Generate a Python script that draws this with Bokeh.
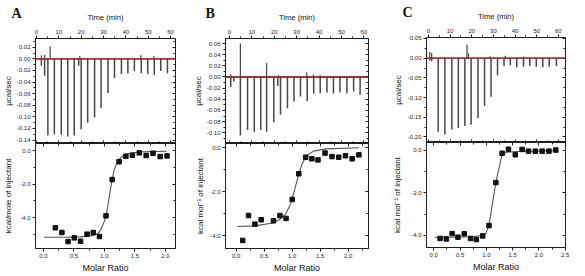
from bokeh.plotting import figure
from bokeh.layouts import row, column
from bokeh.models import (Range1d, LinearAxis, FixedTicker, NumeralTickFormatter,
                          Span, Title, ColumnDataSource)
from bokeh.embed import file_html
from bokeh.resources import INLINE

# ---------------- data ----------------
# Panel A: raw heat flow (downward injection peaks and small upward blips)
a_spike_t = [2.2, 3.65, 5.1, 8.0, 11.1, 14.0, 16.9, 18.9, 20.0, 22.9, 26.0, 28.9, 32.0,
             34.9, 38.0, 40.9, 43.8, 46.9, 49.8, 52.7, 55.6, 58.6]
a_spike_v = [-0.012, -0.029, -0.132, -0.130, -0.131, -0.134, -0.132, -0.012, -0.122, -0.110,
             -0.101, -0.085, -0.059, -0.033, -0.026, -0.025, -0.021, -0.025, -0.026, -0.028,
             -0.021, -0.025]
a_blip_t = [2.2, 3.65, 6.1, 19.4, 46.7, 52.5]
a_blip_v = [0.006, 0.007, 0.021, 0.005, 0.006, 0.005]
# Panel A: integrated heats and fitted isotherm
a_ratio = [0.197, 0.304, 0.406, 0.507, 0.609, 0.716, 0.817, 0.919, 1.026, 1.127, 1.239,
           1.351, 1.458, 1.571, 1.683, 1.795, 1.912, 2.024]
a_heat = [-4.60, -4.88, -5.42, -5.20, -5.40, -4.98, -4.88, -5.12, -3.89, -1.73, -0.67,
          -0.34, -0.28, -0.14, -0.30, -0.16, -0.36, -0.32]
a_fit_x = [0.01, 0.34, 0.61, 0.77, 0.85, 0.90, 0.95, 1.00, 1.026, 1.06, 1.09, 1.127, 1.16,
           1.20, 1.24, 1.30, 1.40, 1.60, 2.02]
a_fit_y = [-5.16, -5.16, -5.14, -5.08, -5.02, -4.92, -4.65, -4.20, -3.89, -3.20, -2.50, -1.73,
           -1.15, -0.75, -0.52, -0.33, -0.18, -0.08, -0.04]

# Panel B
b_spike_t = [0.6, 2.0, 4.9, 8.1, 11.1, 14.0, 16.6, 19.8, 21.6, 22.8, 25.9, 28.8, 31.7, 34.7,
             37.6, 40.5, 43.5, 46.4, 49.3, 52.4, 55.4, 58.3]
b_spike_v = [-0.018, -0.008, -0.105, -0.095, -0.098, -0.095, -0.098, -0.081, -0.016, -0.067,
             -0.056, -0.044, -0.035, -0.043, -0.030, -0.029, -0.028, -0.029, -0.028, -0.029,
             -0.026, -0.032]
b_blip_t = [0.6, 4.9, 16.6, 22.0, 34.5, 37.5, 40.5]
b_blip_v = [0.005, 0.060, 0.025, 0.003, 0.008, 0.004, 0.003]
b_ratio = [0.116, 0.22, 0.335, 0.446, 0.665, 0.78, 0.89, 1.0, 1.117, 1.24, 1.35, 1.46,
           1.585, 1.71, 1.83, 1.95, 2.07, 2.19]
b_heat = [-4.21, -3.08, -3.47, -3.27, -3.32, -3.08, -3.21, -2.35, -1.18, -0.43, -0.50, -0.55,
          -0.24, -0.40, -0.43, -0.36, -0.50, -0.32]
b_fit_x = [0.02, 0.335, 0.625, 0.77, 0.885, 0.97, 1.04, 1.10, 1.175, 1.26, 1.38, 1.61, 2.19]
b_fit_y = [-3.58, -3.55, -3.43, -3.27, -3.00, -2.55, -1.94, -1.34, -0.73, -0.35, -0.15,
           -0.05, 0.0]

# Panel C
c_spike_t = [0.6, 1.5, 4.5, 7.6, 10.8, 13.8, 16.8, 19.7, 22.9, 25.9, 28.9, 31.9, 34.9, 37.8,
             40.8, 43.9, 46.8, 49.8, 52.8, 55.8, 59.1]
c_spike_v = [-0.006, -0.008, -0.187, -0.194, -0.181, -0.177, -0.172, -0.169, -0.152, -0.121,
             -0.098, -0.043, -0.020, -0.018, -0.023, -0.022, -0.020, -0.022, -0.023, -0.022,
             -0.020]
c_blip_t = [0.6, 1.5, 17.8, 18.5, 28.5, 35.5, 44.0]
c_blip_v = [0.016, 0.013, 0.035, 0.012, 0.005, 0.006, 0.004]
c_ratio = [0.12, 0.24, 0.35, 0.46, 0.58, 0.70, 0.81, 0.93, 1.05, 1.18, 1.30, 1.42, 1.55,
           1.68, 1.80, 1.93, 2.06, 2.19, 2.32]
c_heat = [-4.14, -4.16, -3.91, -4.08, -3.92, -4.14, -4.19, -4.02, -3.53, -1.51, -0.13, 0.06,
          -0.20, 0.05, -0.03, -0.03, -0.03, -0.03, 0.02]
c_fit_x = [0.02, 0.40, 0.71, 0.93, 0.99, 1.05, 1.18, 1.30, 1.39, 1.57, 1.94, 2.34]
c_fit_y = [-4.08, -4.08, -4.06, -4.00, -3.90, -3.53, -1.51, -0.16, -0.08, -0.05, -0.03, 0.0]

# tick positions
time_ticks = [0, 10, 20, 30, 40, 50, 60]
time_minor = [5, 15, 25, 35, 45, 55]
a_raw_ticks = [0.02, 0.0, -0.02, -0.04, -0.06, -0.08, -0.10, -0.12, -0.14]
b_raw_ticks = [0.06, 0.04, 0.02, 0.0, -0.02, -0.04, -0.06, -0.08, -0.10]
c_raw_ticks = [0.05, 0.0, -0.05, -0.10, -0.15, -0.20]
heat_ticks = [0.0, -2.0, -4.0]
heat_minor = [-1.0, -3.0, -5.0]
ratio_ticks_ab = [0.0, 0.5, 1.0, 1.5, 2.0]
ratio_ticks_c = [0.0, 0.5, 1.0, 1.5, 2.0, 2.5]
ratio_minor = [0.25, 0.75, 1.25, 1.75, 2.25]

FONT = "Liberation Sans"
INK = "#1e1e1e"
TRACE = "#474747"
BASE_RED = "#cc2a2a"


def half_steps(ticks):
    step = ticks[0] - ticks[1]
    return [t - step / 2 for t in ticks] + [ticks[0] + step / 2]


def style_axis(ax, ticks, minor, fmt=None, label=None, label_size="8px", standoff=1):
    ax.ticker = FixedTicker(ticks=ticks, minor_ticks=minor)
    if fmt:
        ax.formatter = NumeralTickFormatter(format=fmt)
    ax.major_label_text_font = FONT
    ax.major_label_text_font_size = "6px"
    ax.major_label_text_color = INK
    ax.major_label_standoff = 2
    ax.major_tick_in = 0
    ax.major_tick_out = 3
    ax.minor_tick_in = 0
    ax.minor_tick_out = 2
    ax.axis_line_color = INK
    ax.major_tick_line_color = INK
    ax.minor_tick_line_color = INK
    if label:
        ax.axis_label = label
        ax.axis_label_text_font = FONT
        ax.axis_label_text_font_size = label_size
        ax.axis_label_text_font_style = "normal"
        ax.axis_label_text_color = "#111111"
        ax.axis_label_standoff = standoff


def mirror(p, side, ticks, minor):
    # tick marks only (pointing inward) on the opposite frame edges
    ax = LinearAxis(ticker=FixedTicker(ticks=ticks, minor_ticks=minor),
                    major_label_text_font_size="0px", major_label_text_color=None,
                    major_label_standoff=0,
                    major_tick_in=3, major_tick_out=0, minor_tick_in=2, minor_tick_out=0,
                    axis_line_color=INK, major_tick_line_color=INK,
                    minor_tick_line_color=INK)
    p.add_layout(ax, side)


def base_fig(w, h, xr, yr, bl, br, bt, bb, above):
    p = figure(width=w, height=h, x_range=Range1d(*xr), y_range=Range1d(*yr),
               x_axis_location="above" if above else "below",
               output_backend="svg", toolbar_location=None,
               min_border_left=bl, min_border_right=br, min_border_top=bt,
               min_border_bottom=bb)
    p.grid.visible = False
    p.outline_line_color = INK
    p.outline_line_width = 1
    p.background_fill_color = "white"
    p.border_fill_color = "white"
    return p


def thermogram(w, h, xr, yr, bl, br, bt, spike_t, spike_v, blip_t, blip_v, yticks, yfmt,
               ylab_standoff, letter, letter_offset):
    p = base_fig(w, h, xr, yr, bl, br, bt, 0, True)
    style_axis(p.xaxis[0], time_ticks, time_minor, label="Time (min)",
               label_size="7.6px", standoff=5)
    style_axis(p.yaxis[0], yticks, half_steps(yticks), fmt=yfmt, label="µcal/sec",
               standoff=ylab_standoff)
    mirror(p, "right", yticks, half_steps(yticks))
    mirror(p, "below", time_ticks, time_minor)
    p.add_layout(Span(location=0, dimension="width", line_color="#1a1a1a", line_width=1.3))
    spikes = ColumnDataSource(dict(t=spike_t, v=spike_v))
    blips = ColumnDataSource(dict(t=blip_t, v=blip_v))
    p.segment(x0="t", y0=0, x1="t", y1="v", source=spikes, line_color=TRACE, line_width=1.5)
    p.segment(x0="t", y0=0, x1="t", y1="v", source=blips, line_color=TRACE, line_width=1.2)
    p.add_layout(Span(location=0, dimension="width", line_color=BASE_RED, line_width=1))
    # panel letter in the top-left margin: a leading empty line drops it level with the
    # time-axis title, and the negative standoff keeps the margin height unchanged
    p.add_layout(Title(text="\n" + letter, align="left", offset=letter_offset,
                       vertical_align="top", standoff=-26, text_line_height=0.95,
                       text_font="Liberation Serif", text_font_style="bold",
                       text_font_size="14px", text_color="#111111"), "above")
    return p


def isotherm(w, h, xr, yr, bl, br, bb, ratio, heat, fit_x, fit_y, xticks, ylabel,
             ylab_standoff):
    p = base_fig(w, h, xr, yr, bl, br, 0, bb, False)
    style_axis(p.xaxis[0], xticks, ratio_minor, fmt="0.0", label="Molar Ratio",
               label_size="9px", standoff=2)
    style_axis(p.yaxis[0], heat_ticks, heat_minor, fmt="0.0", label=ylabel,
               standoff=ylab_standoff)
    mirror(p, "right", heat_ticks, heat_minor)
    mirror(p, "above", xticks, ratio_minor)
    p.line(fit_x, fit_y, line_color="#555555", line_width=1.1)
    p.scatter(ratio, heat, marker="square", size=4.5, color="#111111")
    return p


pa_top = thermogram(190, 143, (-0.44, 62.2), (-0.146, 0.035), 32, 15, 38,
                    a_spike_t, a_spike_v, a_blip_t, a_blip_v, a_raw_ticks, "0.00", 1,
                    "A", -24)
pa_bot = isotherm(190, 133, (-0.128, 2.163), (-5.833, 0.417), 32, 15, 28,
                  a_ratio, a_heat, a_fit_x, a_fit_y, ratio_ticks_ab,
                  "kcal/mole of injectant", 4)

pb_top = thermogram(200, 143, (-1.735, 62.04), (-0.1192, 0.069), 31, 22, 38,
                    b_spike_t, b_spike_v, b_blip_t, b_blip_v, b_raw_ticks, "0.00", 1,
                    "B", -20)
pb_bot = isotherm(200, 133, (-0.191, 2.361), (-4.577, 0.195), 31, 22, 28,
                  b_ratio, b_heat, b_fit_x, b_fit_y, ratio_ticks_ab,
                  "kcal mol⁻¹ of injectant", 2)

pc_top = thermogram(195, 142, (-0.898, 63.29), (-0.214, 0.0525), 32, 20, 37,
                    c_spike_t, c_spike_v, c_blip_t, c_blip_v, c_raw_ticks, "0.00", 2,
                    "C", -24)
pc_bot = isotherm(195, 134, (-0.138, 2.505), (-4.565, 0.376), 32, 20, 29,
                  c_ratio, c_heat, c_fit_x, c_fit_y, ratio_ticks_c,
                  "kcal mol⁻¹ of injectant", 6)

layout = row(column(pa_top, pa_bot), column(pb_top, pb_bot), column(pc_top, pc_bot))

open("out.html", "w").write(file_html(layout, INLINE))
